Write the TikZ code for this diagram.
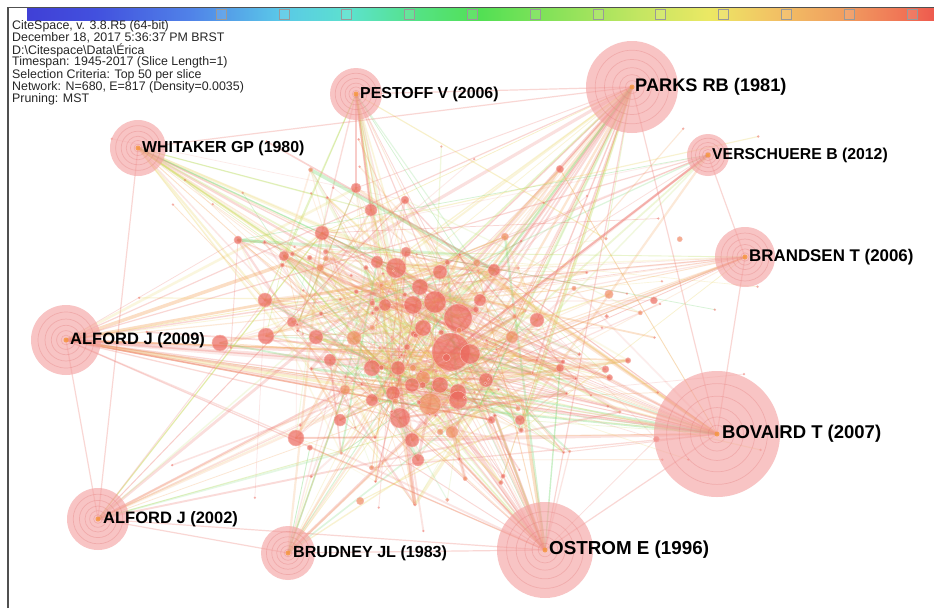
\documentclass[tikz,border=0pt]{standalone}
\usepackage{fontspec}
\setmainfont{Liberation Sans}
\usetikzlibrary{calc}

% palette
\definecolor{framegray}{RGB}{80,80,80}
\definecolor{ered}{RGB}{236,112,104}
\definecolor{epink}{RGB}{242,150,140}
\definecolor{eorange}{RGB}{244,160,86}
\definecolor{eyellow}{RGB}{234,212,96}
\definecolor{elime}{RGB}{188,222,96}
\definecolor{egreen}{RGB}{112,214,108}
\definecolor{nodered}{RGB}{236,104,94}
\definecolor{nodeorange}{RGB}{240,140,96}
\definecolor{nodeedge}{RGB}{246,180,170}
\definecolor{bigpink}{RGB}{244,160,160}
\definecolor{ringpink}{RGB}{226,120,120}
\definecolor{coreorange}{RGB}{246,150,60}
% timeline bar colours
\definecolor{cb0}{RGB}{64,64,214}
\definecolor{cb1}{RGB}{66,80,222}
\definecolor{cb2}{RGB}{80,130,232}
\definecolor{cb3}{RGB}{90,200,232}
\definecolor{cb4}{RGB}{92,226,205}
\definecolor{cb5}{RGB}{84,226,130}
\definecolor{cb6}{RGB}{82,224,84}
\definecolor{cb7}{RGB}{140,226,90}
\definecolor{cb8}{RGB}{196,230,98}
\definecolor{cb9}{RGB}{236,232,100}
\definecolor{cb10}{RGB}{242,196,100}
\definecolor{cb11}{RGB}{240,160,96}
\definecolor{cb12}{RGB}{240,118,86}
\definecolor{cb13}{RGB}{238,90,78}

\pgfdeclarelayer{bg}
\pgfdeclarelayer{edges}
\pgfsetlayers{bg,edges,main}

\pgfmathdeclarerandomlist{linkcolor}{{ered}{ered}{epink}{epink}{eorange}{eorange}{eorange}{eyellow}{eyellow}{elime}{egreen}}
\pgfmathdeclarerandomlist{dotcolor}{{nodered}{nodered}{nodeorange}}

\tikzset{
  citenode/.style={circle, inner sep=0pt, fill opacity=0.7, draw=nodeedge, line width=0.5pt},
  hub/.style={circle, inner sep=0pt, fill=bigpink, fill opacity=0.62, draw=none},
  ringline/.style={draw=ringpink, draw opacity=0.32, line width=0.7pt},
  hubcore/.style={circle, inner sep=0pt, minimum size=5pt, fill=coreorange, fill opacity=0.8},
  hublabel/.style={anchor=west, inner sep=0pt, text=black},
  citelink/.style={line cap=round},
  infotext/.style={anchor=west, inner sep=0pt, font=\fontsize{12.4}{13}\selectfont, text=black!85},
}

\begin{document}
\begin{tikzpicture}[x=1pt,y=-1pt]
\useasboundingbox (0,0) rectangle (934,608);
\begin{pgfonlayer}{bg}
  \fill[white] (0,0) rectangle (934,608);
\end{pgfonlayer}

% frame
\draw[framegray, line width=1.6pt] (8,608) -- (8,7.5) -- (934,7.5);

% timeline colour bar
\foreach \xa/\xb/\ca/\cb in {27/95/cb0/cb1, 95/190/cb1/cb2, 190/280/cb2/cb3, 280/350/cb3/cb4,
  350/420/cb4/cb5, 420/480/cb5/cb6, 480/560/cb6/cb7, 560/640/cb7/cb8, 640/710/cb8/cb9,
  710/770/cb9/cb10, 770/840/cb10/cb11, 840/900/cb11/cb12, 900/934/cb12/cb13}
  \shade[left color=\ca, right color=\cb] (\xa,8.3) rectangle (\xb,20);
\foreach \k in {0,...,11}{
  \pgfmathsetmacro\sx{221+62.8*\k}
  \draw[black!40, line width=0.6pt, fill=white, fill opacity=0.1] (\sx-5,9) rectangle (\sx+5,19.5);
}

% header text
\node[infotext] (info1) at (12,26) {CiteSpace, v. 3.8.R5 (64-bit)};
\node[infotext] (info2) at (12,38.2) {December 18, 2017 5:36:37 PM BRST};
\node[infotext] (info3) at (12,50.4) {D:\textbackslash Citespace\textbackslash Data\textbackslash Érica};
\node[infotext] (info4) at (12,62.6) {Timespan: 1945-2017 (Slice Length=1)};
\node[infotext] (info5) at (12,74.8) {Selection Criteria: Top 50 per slice};
\node[infotext] (info6) at (12,87) {Network: N=680, E=817 (Density=0.0035)};
\node[infotext] (info7) at (12,99.2) {Pruning: MST};

% central cluster of cited references
\foreach \x/\y/\r/\c [count=\i] in {
  451/352/19/nodered, 458/318/14/nodered, 435/302/11/nodered, 470/354/10/nodered,
  413/305/9/nodered, 420/287/8/nodered, 423/328/8/nodered, 398/368/7/nodered,
  423/378/7/nodeorange, 440/385/8/nodered, 393/393/7/nodered, 412/385/7/nodered,
  458/392/8/nodered, 385/305/6/nodered, 512/337/6/nodeorange, 396/268/10/nodered,
  322/233/7/nodered, 356/188/5/nodered, 371/210/6/nodered, 265/300/7/nodered,
  266/336/8/nodered, 220/343/8/nodered, 296/438/8/nodered, 377/262/6/nodered,
  406/252/5/nodered, 354/338/7/nodeorange, 330/360/6/nodered, 372/368/8/nodered,
  430/404/11/nodeorange, 400/418/10/nodered, 458/400/9/nodered, 486/380/7/nodered,
  537/320/7/nodered, 494/270/6/nodered, 440/272/7/nodered, 412/440/7/nodered,
  418/460/6/nodered, 452/432/6/nodeorange, 340/420/6/nodered, 316/337/7/nodered,
  292/322/5/nodered, 284/256/5/nodered, 238/240/4/nodered, 560/368/4/nodered,
  520/420/5/nodered, 372/400/6/nodered, 345/390/5/nodeorange, 480/300/6/nodered,
  405/200/4/nodered}
  \node[citenode, fill=\c, minimum size=2*\r] (m\i) at (\x,\y) {};

\pgfmathsetseed{1218}
\foreach \i in {1,...,110}{
  \pgfmathsetmacro\px{445+190*(rnd+rnd+rnd-1.5)}
  \pgfmathsetmacro\py{335+140*(rnd+rnd+rnd-1.5)}
  \pgfmathsetmacro\pr{1.2+3.2*rnd*rnd}
  \pgfmathrandomitem{\dc}{dotcolor}
  \node[citenode, fill=\dc, minimum size=2*\pr] (s\i) at (\px,\py) {};
}
\foreach \i in {1,...,50}{
  \pgfmathsetmacro\px{90+680*rnd}
  \pgfmathsetmacro\py{120+420*rnd}
  \node[citenode, fill=nodered, draw=none, fill opacity=0.5, minimum size=2.6] (o\i) at (\px,\py) {};
}

% landmark references
\foreach \n/\x/\y/\r in {parks/632/87/46, pestoff/356/94/26, whitaker/138/148/28,
  verschuere/708/155/21, brandsen/745/257/30, alfordA/66/340/35, bovaird/717/434/63,
  alfordB/98/519/31, brudney/288/553/27, ostrom/545/550/48}{
  \node[hub, minimum size=2*\r] (\n) at (\x,\y) {};
  \foreach \f in {0.14,0.27,0.42,0.6,0.8}
    \draw[ringline] (\n.center) circle[radius=\f*\r];
  \node[hubcore] (\n-core) at (\n.center) {};
}

\node[hublabel, font=\bfseries\fontsize{18.2}{20}\selectfont] (parks-t) at ([xshift=3pt]parks.center) {PARKS RB (1981)};
\node[hublabel, font=\bfseries\fontsize{15.9}{18}\selectfont] (pestoff-t) at ([xshift=4pt]pestoff.center) {PESTOFF V (2006)};
\node[hublabel, font=\bfseries\fontsize{15.9}{18}\selectfont] (whitaker-t) at ([xshift=4pt]whitaker.center) {WHITAKER GP (1980)};
\node[hublabel, font=\bfseries\fontsize{15.8}{18}\selectfont] (verschuere-t) at ([xshift=4pt]verschuere.center) {VERSCHUERE B (2012)};
\node[hublabel, font=\bfseries\fontsize{16.9}{18}\selectfont] (brandsen-t) at ([xshift=4pt]brandsen.center) {BRANDSEN T (2006)};
\node[hublabel, font=\bfseries\fontsize{16.5}{18}\selectfont] (alfordA-t) at ([xshift=4pt]alfordA.center) {ALFORD J (2009)};
\node[hublabel, font=\bfseries\fontsize{18.5}{20}\selectfont] (bovaird-t) at ([xshift=5pt]bovaird.center) {BOVAIRD T (2007)};
\node[hublabel, font=\bfseries\fontsize{16.5}{18}\selectfont] (alfordB-t) at ([xshift=5pt]alfordB.center) {ALFORD J (2002)};
\node[hublabel, font=\bfseries\fontsize{16.1}{18}\selectfont] (brudney-t) at ([xshift=5pt]brudney.center) {BRUDNEY JL (1983)};
\node[hublabel, font=\bfseries\fontsize{18.8}{20}\selectfont] (ostrom-t) at ([xshift=4pt]ostrom.center) {OSTROM E (1996)};

% co-citation links
\begin{pgfonlayer}{edges}
  \foreach \hname/\cnt in {parks/32, pestoff/18, whitaker/22, verschuere/12, brandsen/18,
      alfordA/26, bovaird/34, alfordB/16, brudney/16, ostrom/30}{
    \foreach \j in {1,...,\cnt}{
      \pgfmathrandominteger{\t}{1}{110}
      \pgfmathrandominteger{\u}{1}{49}
      \pgfmathrandomitem{\lc}{linkcolor}
      \pgfmathsetmacro\lw{0.7+3*rnd*rnd}
      \pgfmathsetmacro\lo{0.16+0.2*rnd}
      \pgfmathparse{rnd<0.5 ? "s\t" : "m\u"}
      \edef\target{\pgfmathresult}
      \draw[citelink, draw=\lc, draw opacity=\lo, line width=\lw] (\hname.center) -- (\target.center);
    }
  }
  \foreach \j in {1,...,360}{
    \pgfmathrandominteger{\a}{1}{110}
    \pgfmathrandominteger{\b}{1}{49}
    \pgfmathrandomitem{\lc}{linkcolor}
    \pgfmathsetmacro\lw{0.7+3.4*rnd*rnd}
    \pgfmathsetmacro\lo{0.12+0.2*rnd}
    \draw[citelink, draw=\lc, draw opacity=\lo, line width=\lw] (s\a.center) -- (m\b.center);
  }
  \foreach \j in {1,...,50}{
    \pgfmathrandominteger{\b}{1}{49}
    \pgfmathrandomitem{\lc}{linkcolor}
    \pgfmathsetmacro\lw{0.6+2*rnd*rnd}
    \pgfmathsetmacro\lo{0.16+0.15*rnd}
    \draw[citelink, draw=\lc, draw opacity=\lo, line width=\lw] (o\j.center) -- (m\b.center);
  }
  \foreach \a/\b in {whitaker/alfordB, alfordA/alfordB, parks/alfordA, parks/whitaker,
      parks/ostrom, parks/bovaird, parks/pestoff, verschuere/brandsen, brandsen/bovaird,
      bovaird/ostrom, alfordA/bovaird, alfordB/brudney, brudney/ostrom, alfordA/ostrom,
      whitaker/bovaird, pestoff/ostrom, alfordB/ostrom, verschuere/alfordA}
    \draw[citelink, draw=ered, draw opacity=0.28, line width=1.2pt] (\a.center) -- (\b.center);
\end{pgfonlayer}
\end{tikzpicture}
\end{document}
